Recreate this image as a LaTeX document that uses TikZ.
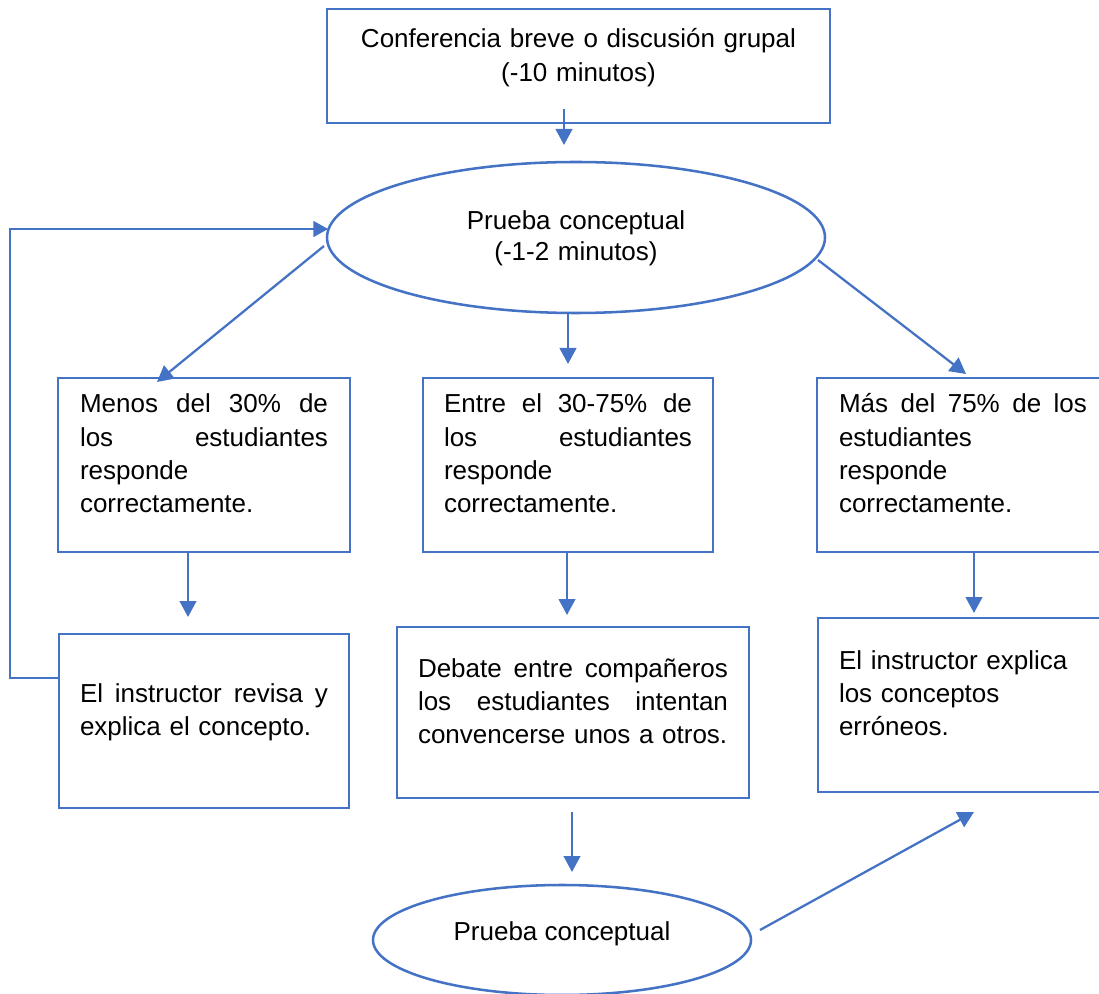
\documentclass[tikz,border=0pt]{standalone}
\usepackage{fontspec}
\setmainfont{Liberation Sans}
\usetikzlibrary{arrows.meta,calc,shapes.geometric}
\definecolor{azul}{RGB}{68,114,196}

\tikzset{every picture/.style={line width=0.75pt}}
\tikzset{
	caja/.style={draw=azul, line width=1.9pt, rectangle, inner sep=0pt, outer sep=0pt, align=left, font=\fontsize{19.5pt}{25pt}\selectfont},
	ovalo/.style={draw=azul, line width=1.9pt, ellipse, inner sep=0pt, outer sep=0pt, align=center, font=\fontsize{19.5pt}{23.25pt}\selectfont},
	flecha/.style={draw=azul, line width=1.7pt, -{Triangle[length=12pt,width=12.5pt]}},
	lineaRetorno/.style={draw=azul, line width=1.2pt, -{Triangle[length=11pt,width=12pt]}}}

\begin{document}
\begin{tikzpicture}[x=0.75pt,y=0.75pt,yscale=-1,xscale=1]
	\useasboundingbox (0,0) rectangle (1099,994);

	%Shape: Rectangle
	\draw (578.5,66) node[caja, minimum width=377.25pt, text width=345pt, align=center, text height=29.25pt, text depth=56.25pt] (conf) {Conferencia breve o discusión grupal\\(-10 minutos)};
	%Shape: Ellipse
	\draw (576,237.5) node[ovalo, minimum width=373.5pt, minimum height=113.25pt, text width=225pt, text height=18.75pt, text depth=30pt] (prueba) {Prueba conceptual\\(-1-2 minutos)};

	%Shape: Rectangle
	\draw (204,465) node[caja, minimum width=219pt, text width=186pt, text height=26.25pt, text depth=104.25pt] (caja1) {Menos\hfill del\hfill 30\%\hfill de\\los\hfill estudiantes\\responde\\correctamente.};
	%Shape: Rectangle
	\draw (568,465) node[caja, minimum width=217.5pt, text width=186pt, text height=26.25pt, text depth=104.25pt] (caja2) {Entre\hfill el\hfill 30-75\%\hfill de\\los\hfill estudiantes\\responde\\correctamente.};
	%Shape: Rectangle
	\draw (963,465) node[caja, minimum width=219pt, text width=186pt, text height=26.25pt, text depth=104.25pt] (caja3) {Más\hfill del\hfill 75\%\hfill de\hfill los\\estudiantes\\responde\\correctamente.};

	%Shape: Rectangle
	\draw (204,721) node[caja, minimum width=217.5pt, text width=186pt, text height=51pt, text depth=79.5pt] (caja4) {El\hfill instructor\hfill revisa\hfill y\\explica el concepto.};
	%Shape: Rectangle
	\draw (573,712.5) node[caja, minimum width=264pt, text width=232.5pt, text height=37.5pt, text depth=90.75pt] (caja5) {Debate\hfill entre\hfill compañeros\\los\hfill estudiantes\hfill intentan\\convencerse unos a otros.};
	%Shape: Rectangle
	\draw (964,705) node[caja, minimum width=219pt, text width=187.5pt, text height=38.25pt, text depth=92.25pt] (caja6) {El instructor explica\\los conceptos\\erróneos.};

	%Shape: Ellipse
	\draw (562,940) node[ovalo, minimum width=283.5pt, minimum height=82.5pt, text height=13.5pt, text depth=13.5pt] (prueba2) {Prueba conceptual};

	%Straight Lines
	\draw[flecha] ($(conf.south)+(-14.5,-14)$) -- ($(prueba.north)+(-12,-17)$);
	\draw[flecha] ($(prueba.west)+(-3,8.5)$) -- ($(caja1.north)+(-47,4)$);
	\draw[flecha] (prueba.south -| caja2.north) -- ($(caja2.north)+(0,-14)$);
	\draw[flecha] ($(prueba.east)+(-7,22.5)$) -- ($(caja3.north)+(3,-4)$);
	%Straight Lines
	\draw[flecha] ($(caja1.south)+(-16,1)$) -- ($(caja4.north)+(-16,-17)$);
	\draw[flecha] ($(caja2.south)+(-1,1)$) -- ($(caja5.north)+(-6,-12)$);
	\draw[flecha] ($(caja3.south)+(11,1)$) -- ($(caja6.north)+(10,-5)$);
	%Straight Lines
	\draw[flecha] ($(caja5.south)+(-1,14)$) -- ($(prueba2.north)+(10,-13)$);
	\draw[flecha] ($(prueba2.east)+(9,-10)$) -- ($(caja6.south)+(10,20)$);

	%Straight Lines
	\coordinate (esq) at (10,678);
	\draw[lineaRetorno] ($(caja4.west)+(0,-43)$) -- (esq) |- ($(prueba.west)+(1,-8.5)$);

\end{tikzpicture}
\end{document}
